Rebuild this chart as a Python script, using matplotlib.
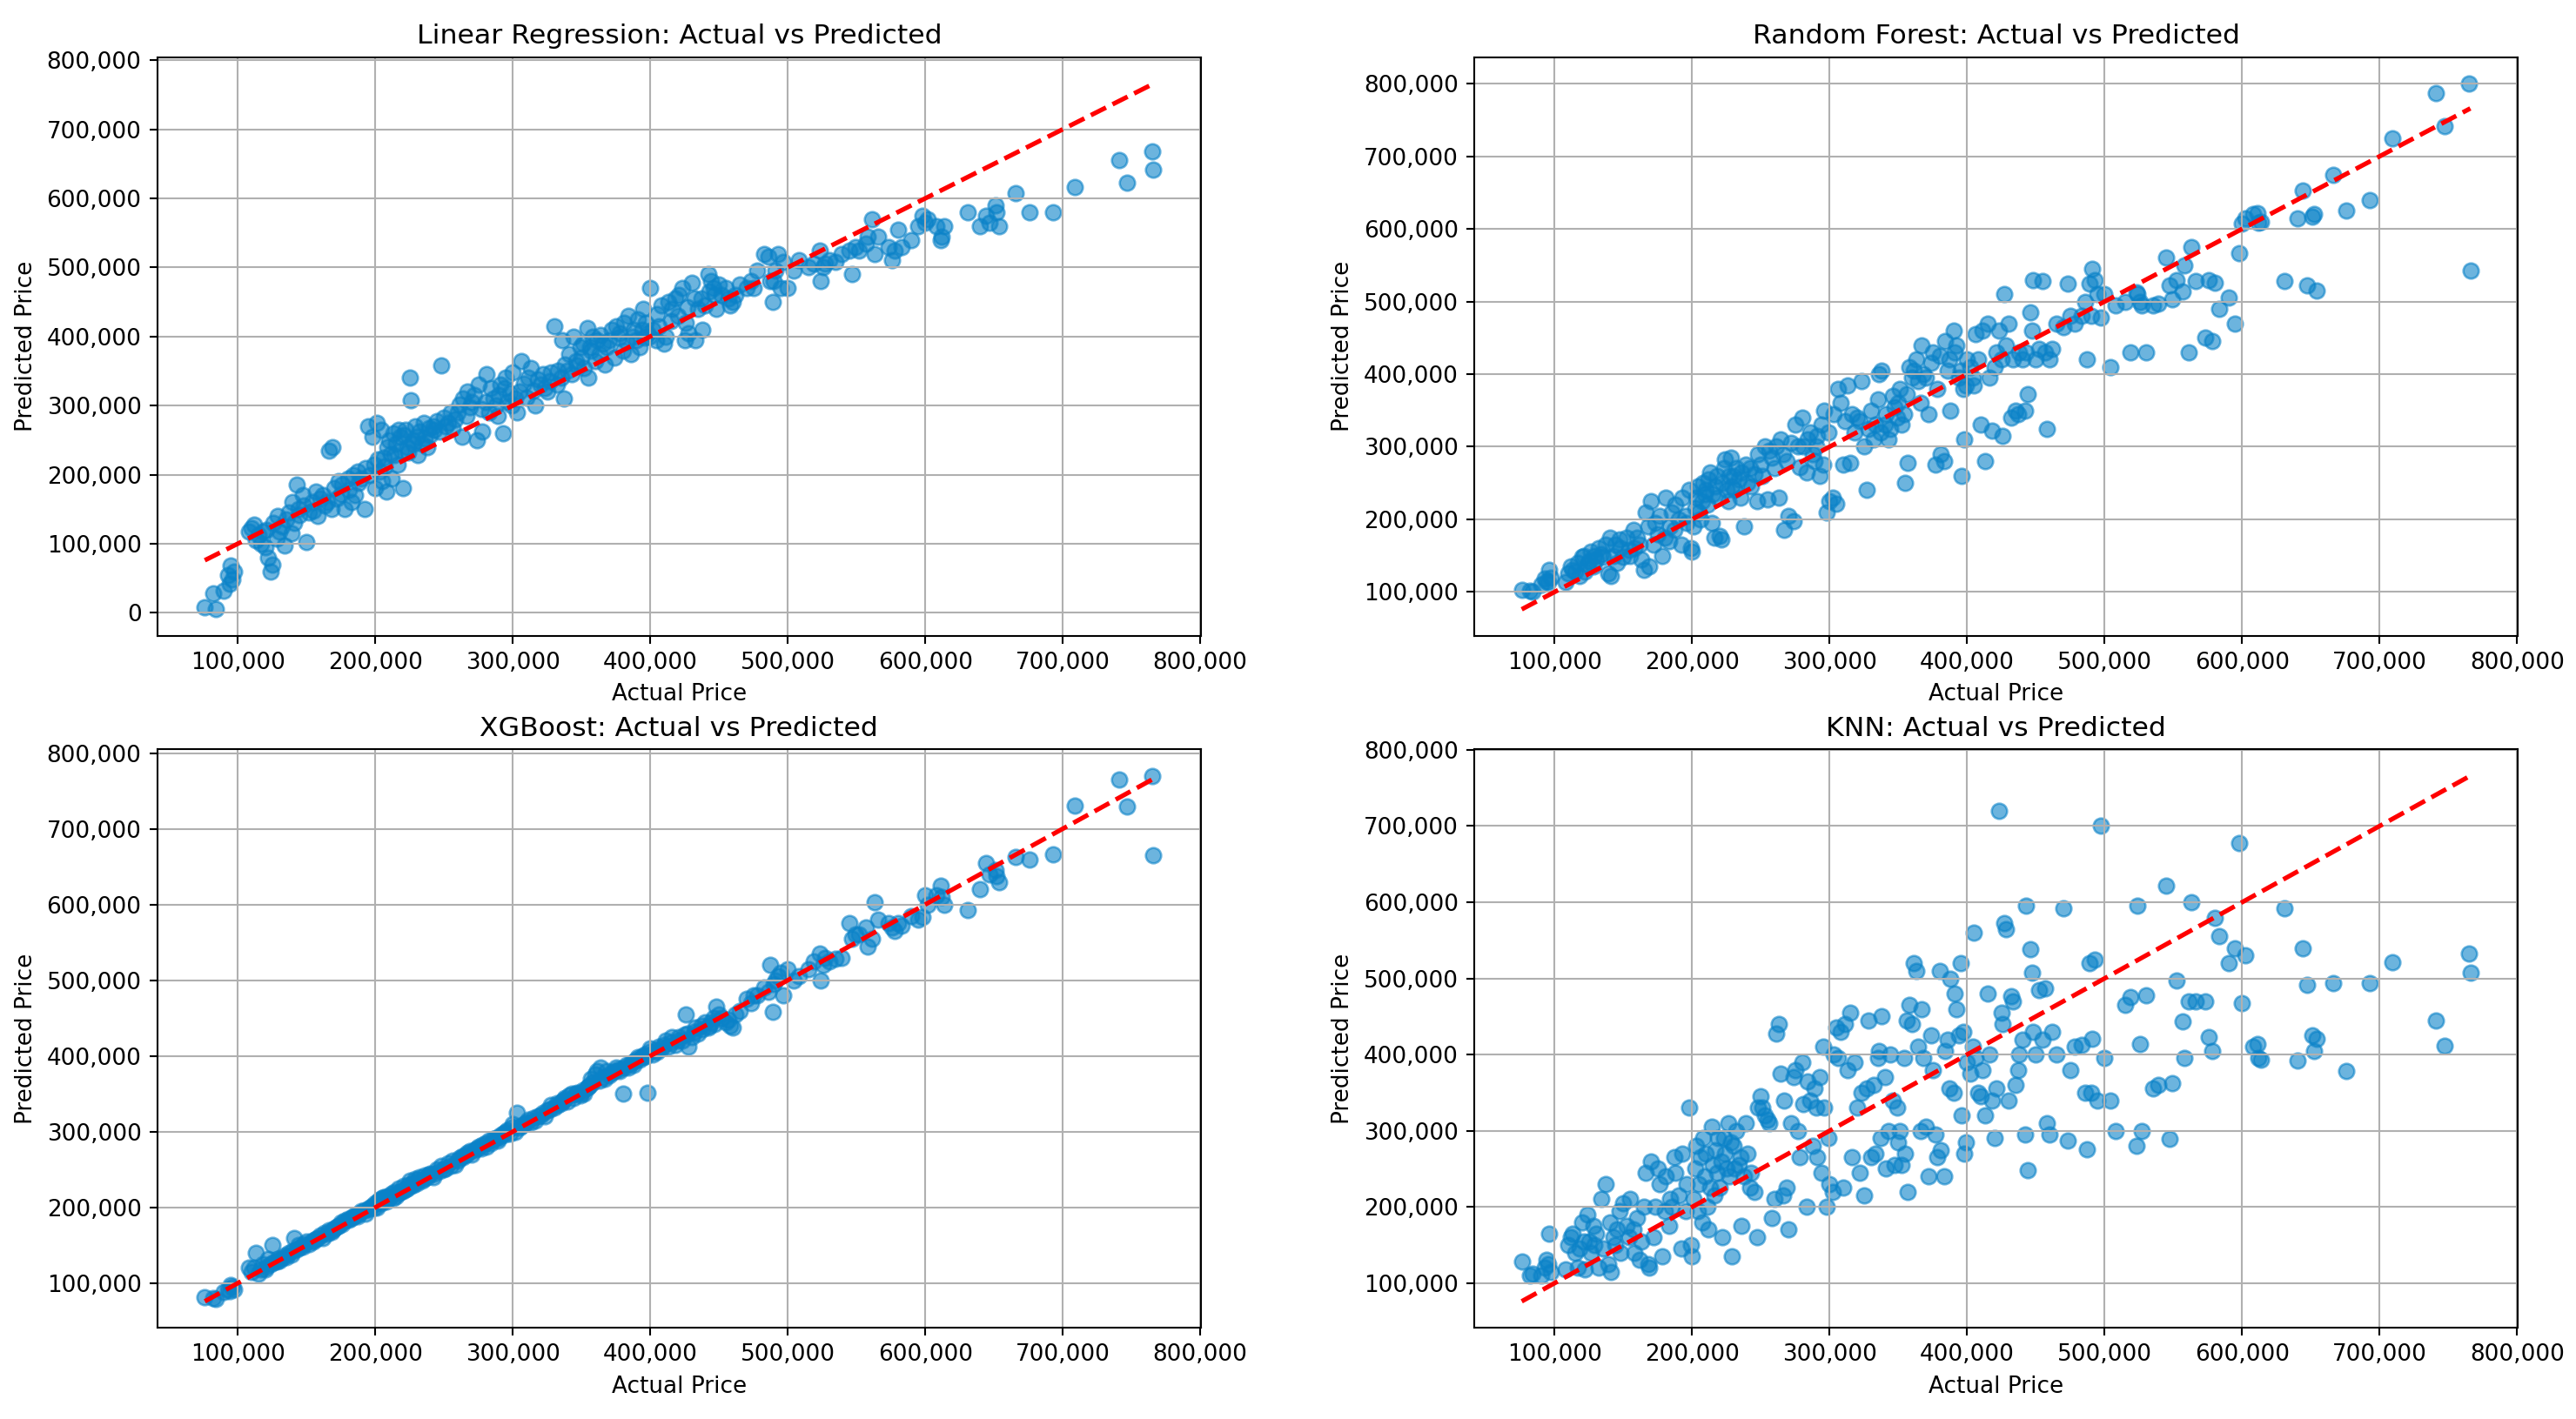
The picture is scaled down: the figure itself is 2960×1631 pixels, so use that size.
import matplotlib
matplotlib.use('Agg')
import matplotlib.pyplot as plt
import numpy as np
from matplotlib.ticker import FuncFormatter

# values, in thousands of dollars
actual_k = [
    76, 82, 84, 90, 93, 94, 95, 96, 97, 108,
    110, 112, 113, 115, 117, 118, 120, 121, 122, 124,
    125, 126, 128, 129, 130, 132, 134, 135, 137, 139,
    140, 141, 143, 144, 145, 147, 148, 150, 152, 154,
    155, 157, 158, 160, 162, 163, 165, 166, 168, 169,
    170, 172, 173, 175, 176, 178, 180, 181, 183, 184,
    185, 187, 188, 190, 192, 193, 195, 196, 198, 199,
    200, 201, 202, 203, 204, 205, 206, 207, 208, 209,
    210, 211, 212, 213, 214, 215, 216, 217, 218, 219,
    220, 221, 222, 223, 224, 225, 226, 227, 228, 229,
    230, 231, 232, 234, 235, 236, 238, 239, 240, 242,
    243, 245, 247, 248, 250, 251, 253, 255, 256, 258,
    260, 261, 263, 264, 266, 267, 269, 270, 272, 274,
    275, 277, 278, 280, 281, 283, 284, 286, 288, 289,
    290, 291, 293, 294, 295, 296, 298, 299, 300, 302,
    303, 305, 306, 308, 310, 311, 313, 315, 316, 318,
    320, 322, 323, 325, 327, 328, 330, 332, 333, 335,
    336, 337, 338, 340, 341, 343, 344, 346, 347, 349,
    350, 351, 352, 354, 355, 356, 357, 358, 360, 361,
    363, 364, 366, 367, 368, 370, 372, 374, 375, 377,
    378, 380, 381, 383, 384, 386, 387, 388, 390, 391,
    392, 394, 395, 396, 397, 398, 399, 400, 402, 404,
    405, 406, 408, 410, 411, 413, 415, 416, 418, 420,
    421, 423, 425, 426, 427, 428, 430, 432, 433, 435,
    437, 438, 440, 442, 443, 444, 446, 447, 448, 450,
    452, 455, 457, 458, 460, 462, 465, 470, 473, 475,
    478, 483, 486, 487, 489, 490, 491, 493, 495, 497,
    500, 504, 508, 515, 519, 523, 524, 526, 527, 530,
    535, 539, 545, 547, 549, 552, 557, 558, 561, 563,
    566, 573, 576, 578, 580, 583, 590, 595, 598, 600,
    602, 608, 611, 614, 631, 640, 644, 647, 651, 654,
    666, 676, 693, 709, 741, 747, 765, 766, 612, 652,
]

pred_lr_k = [
    8, 28, 5, 32, 55, 42, 68, 48, 60, 118,
    122, 128, 105, 112, 100, 118, 95, 120, 80, 60,
    70, 130, 108, 140, 118, 125, 98, 135, 145, 115,
    160, 130, 185, 150, 142, 170, 155, 102, 145, 160,
    148, 175, 140, 165, 170, 155, 160, 235, 150, 240,
    180, 165, 190, 172, 185, 150, 195, 178, 160, 200,
    170, 205, 188, 195, 150, 210, 270, 200, 255, 215,
    180, 275, 222, 205, 265, 190, 225, 212, 175, 240,
    250, 230, 195, 260, 228, 245, 215, 265, 255, 235,
    180, 258, 265, 240, 232, 340, 308, 250, 245, 270,
    255, 228, 262, 245, 275, 252, 240, 268, 258, 270,
    265, 278, 262, 358, 282, 270, 275, 290, 268, 280,
    290, 302, 255, 310, 285, 320, 298, 305, 315, 250,
    330, 295, 262, 305, 345, 290, 325, 310, 300, 285,
    315, 330, 260, 325, 340, 305, 318, 300, 348, 310,
    290, 320, 365, 332, 312, 340, 355, 322, 300, 338,
    330, 345, 325, 320, 335, 348, 415, 330, 350, 340,
    395, 310, 360, 350, 375, 345, 400, 365, 358, 385,
    370, 390, 355, 412, 340, 385, 380, 400, 365, 395,
    375, 402, 390, 360, 385, 395, 410, 370, 415, 398,
    405, 380, 420, 392, 430, 375, 400, 410, 395, 425,
    385, 410, 440, 398, 420, 405, 400, 470, 410, 395,
    432, 415, 445, 390, 400, 450, 422, 440, 455, 430,
    460, 470, 395, 420, 442, 405, 478, 455, 395, 440,
    455, 410, 445, 490, 465, 480, 470, 460, 440, 475,
    460, 470, 455, 445, 450, 460, 475, 470, 480, 470,
    495, 520, 515, 480, 450, 480, 495, 520, 470, 508,
    470, 495, 510, 500, 505, 525, 480, 500, 505, 510,
    508, 520, 525, 490, 530, 525, 535, 545, 570, 520,
    545, 530, 510, 525, 555, 530, 540, 560, 575, 565,
    570, 560, 540, 560, 580, 560, 575, 565, 590, 560,
    607, 580, 580, 616, 655, 623, 668, 642, 545, 580,
]

pred_rf_k = [
    103, 102, 100, 110, 118, 115, 113, 130, 120, 113,
    125, 135, 130, 128, 140, 122, 148, 150, 128, 138,
    142, 155, 135, 150, 145, 160, 152, 148, 165, 125,
    175, 122, 150, 165, 140, 172, 160, 148, 175, 158,
    150, 185, 160, 175, 165, 145, 130, 210, 190, 135,
    225, 165, 195, 180, 205, 150, 175, 230, 170, 190,
    210, 185, 220, 200, 165, 230, 205, 195, 240, 160,
    155, 190, 215, 230, 245, 210, 200, 225, 250, 235,
    240, 220, 255, 265, 195, 235, 175, 245, 260, 230,
    177, 172, 250, 270, 282, 240, 225, 260, 285, 245,
    260, 240, 270, 255, 230, 265, 190, 275, 250, 270,
    245, 262, 225, 290, 275, 260, 300, 228, 295, 285,
    270, 300, 230, 310, 290, 185, 280, 205, 305, 198,
    330, 300, 272, 340, 300, 265, 310, 320, 290, 280,
    300, 315, 260, 330, 275, 350, 210, 320, 225, 230,
    345, 222, 380, 360, 275, 335, 385, 278, 345, 320,
    340, 335, 390, 300, 240, 325, 350, 310, 330, 365,
    400, 320, 405, 330, 345, 310, 325, 370, 355, 340,
    360, 380, 330, 345, 250, 372, 278, 410, 395, 405,
    420, 390, 360, 440, 400, 395, 345, 415, 430, 275,
    380, 425, 290, 280, 445, 405, 420, 350, 460, 430,
    440, 395, 405, 260, 380, 310, 385, 420, 410, 395,
    385, 455, 420, 330, 460, 280, 470, 395, 322, 410,
    430, 460, 420, 315, 510, 440, 470, 340, 420, 350,
    345, 430, 420, 350, 430, 372, 485, 460, 530, 420,
    435, 528, 430, 325, 420, 435, 470, 465, 525, 480,
    470, 480, 500, 420, 525, 480, 545, 530, 510, 478,
    510, 410, 495, 500, 430, 513, 510, 500, 495, 430,
    495, 497, 560, 522, 503, 530, 514, 550, 430, 575,
    528, 450, 529, 445, 526, 490, 505, 470, 567, 607,
    615, 620, 622, 610, 528, 615, 653, 522, 617, 515,
    675, 625, 640, 725, 787, 742, 800, 543, 608, 620,
]

pred_xgb_k = [
    82, 80, 79, 88, 92, 90, 98, 95, 92, 120,
    115, 120, 140, 113, 118, 125, 118, 122, 132, 125,
    150, 127, 128, 132, 130, 133, 137, 134, 140, 138,
    142, 160, 145, 150, 147, 148, 152, 155, 152, 156,
    155, 158, 160, 163, 160, 166, 165, 170, 168, 170,
    172, 175, 176, 180, 178, 182, 185, 184, 186, 188,
    190, 188, 192, 195, 196, 192, 198, 200, 202, 200,
    205, 200, 208, 210, 206, 212, 214, 210, 208, 215,
    212, 215, 218, 213, 220, 215, 218, 225, 220, 222,
    222, 228, 224, 225, 230, 235, 228, 232, 230, 238,
    232, 236, 240, 235, 238, 242, 240, 244, 245, 240,
    245, 250, 248, 255, 250, 252, 258, 255, 262, 256,
    262, 265, 268, 266, 270, 272, 275, 270, 276, 278,
    280, 278, 282, 285, 280, 288, 285, 290, 292, 288,
    292, 295, 298, 296, 300, 302, 298, 305, 310, 300,
    325, 305, 308, 310, 312, 316, 312, 318, 315, 320,
    322, 325, 320, 328, 330, 335, 332, 338, 335, 338,
    340, 342, 345, 340, 348, 350, 345, 350, 352, 348,
    352, 355, 350, 358, 360, 362, 370, 365, 375, 380,
    368, 385, 372, 370, 380, 374, 378, 380, 385, 382,
    380, 350, 385, 388, 385, 390, 392, 388, 395, 398,
    395, 400, 398, 402, 400, 352, 405, 410, 402, 408,
    405, 412, 410, 415, 420, 412, 418, 425, 415, 420,
    425, 420, 428, 455, 430, 412, 425, 432, 438, 430,
    440, 435, 445, 438, 440, 445, 450, 442, 465, 455,
    450, 445, 448, 440, 438, 455, 460, 475, 470, 480,
    480, 490, 485, 520, 458, 495, 500, 505, 510, 480,
    515, 500, 505, 515, 525, 535, 500, 520, 530, 525,
    528, 530, 575, 555, 560, 560, 570, 545, 555, 603,
    580, 575, 570, 565, 575, 572, 585, 580, 583, 612,
    600, 612, 625, 600, 593, 620, 655, 640, 645, 630,
    663, 659, 666, 730, 765, 729, 770, 665, 610, 638,
]

pred_knn_k = [
    128, 110, 112, 110, 120, 130, 125, 165, 115, 118,
    150, 160, 165, 140, 120, 145, 180, 155, 118, 190,
    155, 140, 175, 150, 165, 120, 210, 145, 230, 125,
    180, 115, 160, 150, 170, 195, 140, 205, 175, 160,
    210, 170, 140, 185, 130, 155, 200, 245, 125, 120,
    260, 160, 200, 250, 230, 135, 195, 240, 175, 210,
    200, 265, 245, 215, 145, 270, 195, 230, 330, 150,
    135, 210, 250, 280, 195, 230, 265, 180, 290, 240,
    270, 200, 170, 225, 305, 255, 215, 275, 245, 290,
    225, 260, 160, 290, 270, 250, 310, 240, 285, 135,
    280, 250, 300, 255, 265, 175, 240, 310, 270, 225,
    245, 220, 160, 330, 345, 330, 320, 315, 310, 185,
    210, 428, 440, 375, 215, 340, 225, 170, 310, 370,
    380, 300, 265, 390, 335, 200, 365, 340, 280, 355,
    330, 265, 370, 245, 410, 330, 200, 290, 230, 220,
    400, 435, 395, 430, 225, 440, 380, 455, 265, 390,
    330, 245, 350, 215, 355, 445, 265, 360, 270, 395,
    405, 290, 450, 370, 250, 300, 400, 340, 255, 330,
    285, 300, 255, 395, 270, 445, 220, 465, 440, 520,
    510, 410, 300, 460, 395, 305, 240, 425, 380, 295,
    265, 510, 275, 240, 405, 420, 355, 500, 350, 480,
    460, 425, 520, 320, 430, 270, 285, 390, 375, 410,
    560, 395, 350, 345, 380, 320, 480, 400, 340, 290,
    355, 720, 455, 440, 573, 565, 340, 477, 470, 360,
    380, 400, 420, 295, 595, 248, 538, 508, 430, 400,
    485, 420, 487, 310, 295, 430, 400, 592, 287, 380,
    410, 413, 350, 276, 520, 350, 421, 525, 340, 700,
    396, 340, 300, 465, 475, 280, 595, 414, 300, 478,
    356, 360, 622, 289, 362, 497, 443, 395, 470, 600,
    470, 470, 423, 405, 580, 555, 520, 540, 678, 467,
    530, 410, 414, 393, 592, 392, 540, 492, 425, 421,
    494, 378, 494, 521, 445, 412, 533, 507, 396, 405,
]

titles = ['Linear Regression', 'Random Forest', 'XGBoost', 'KNN']
preds = [pred_lr_k, pred_rf_k, pred_xgb_k, pred_knn_k]

y_test = np.array(actual_k) * 1000
lo, hi = y_test.min(), y_test.max()

fig, axes = plt.subplots(2, 2, figsize=(15.68, 8.64), dpi=2960 / 15.68)
fig.subplots_adjust(left=0.0611, right=0.9774, top=0.9595, bottom=0.0644,
                    wspace=0.262, hspace=0.197)

comma = FuncFormatter(lambda v, p: f'{v:,.0f}')

for ax, name, pred in zip(axes.flat, titles, preds):
    ax.scatter(y_test, np.array(pred) * 1000, s=45, alpha=0.6, color='#0a82c8')
    ax.plot([lo, hi], [lo, hi], 'r--', lw=2)
    ax.set_title(f'{name}: Actual vs Predicted', fontsize=12)
    ax.set_xlabel('Actual Price')
    ax.set_ylabel('Predicted Price')
    ax.xaxis.set_major_formatter(comma)
    ax.yaxis.set_major_formatter(comma)
    ax.grid(True)

fig.savefig('out.png', dpi=2960 / 15.68)
